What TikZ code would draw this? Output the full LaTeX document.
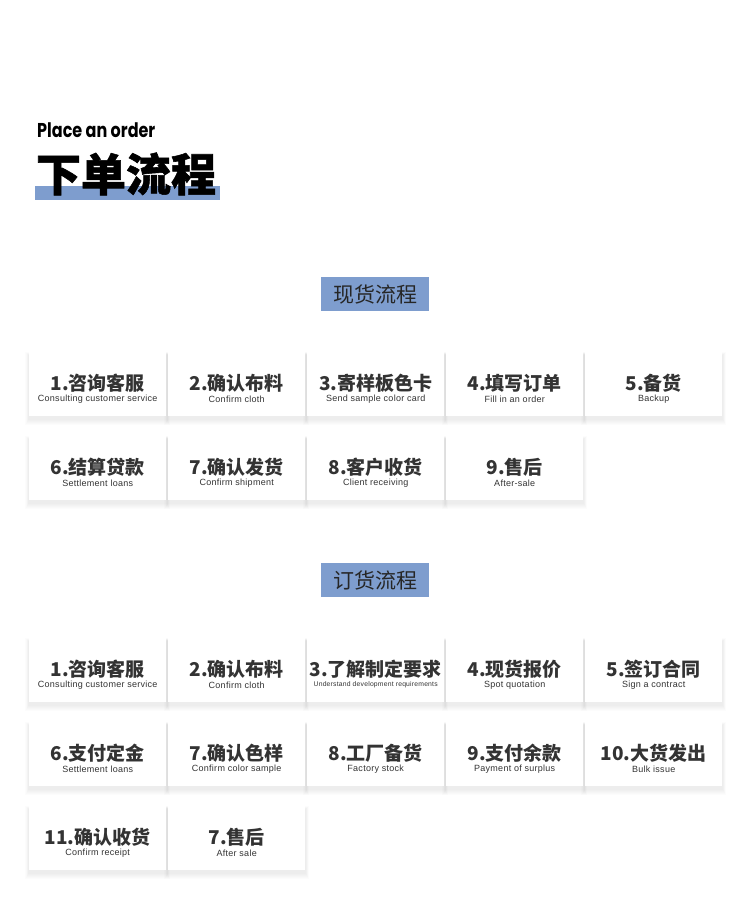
\documentclass[tikz,border=0pt]{standalone}
\usepackage{fontspec}
\usepackage{graphicx}
\setmainfont{Liberation Sans}
\newfontfamily\cjk{Noto Sans CJK SC}
\newfontfamily\headfont{Poppins}
\usepackage{xcolor}
\usetikzlibrary{calc,backgrounds}
\definecolor{bluebar}{HTML}{7E9DCE}
\definecolor{ink}{HTML}{333333}
\tikzset{card/.style={fill=white,minimum width=137pt,minimum height=64pt,inner sep=0pt},
  cardtitle/.style={font=\cjk\bfseries\fontsize{19}{19}\selectfont,text=ink,inner sep=0pt},
  cardsub/.style={font=\fontsize{9}{9}\selectfont\addfontfeature{LetterSpace=3},text=ink,inner sep=0pt},
  secbox/.style={fill=bluebar,minimum width=108pt,minimum height=34pt,inner sep=0pt,font=\cjk\fontsize{21}{21}\selectfont,text=black!85}}
% card: name, left x, top y, chinese title, english line
\newcommand{\card}[5]{\node[card,anchor=north west] (#1) at (#2,#3) {};
  \begin{pgfonlayer}{background}
  \foreach \k in {1,...,6} \fill[black,opacity=.012] ($(#1.south west)+(-0.6*\k,\k+3)$) rectangle ($(#1.north east)+(0.6*\k,-0.5*\k+3)$);
  \end{pgfonlayer}
  \node[cardtitle] (#1-cn) at ($(#1.center)+(0,-1)$) {#4};
  \node[cardsub] (#1-en) at ($(#1.center)+(0,15)$) {#5};}

\begin{document}
\begin{tikzpicture}[x=1pt,y=-1pt]
\begin{pgfonlayer}{background}\fill[white] (0,0) rectangle (750,920);\end{pgfonlayer}
\useasboundingbox (0,0) rectangle (750,920);
% heading
\node[anchor=base west,inner sep=0pt,font=\headfont\bfseries\fontsize{20}{20}\selectfont] (entitle) at (37,138) {\scalebox{0.8}[1]{Place an order}};
\fill[bluebar] (35,186) rectangle (220,200);
\node[inner sep=0pt,font=\cjk\bfseries\fontsize{45}{45}\selectfont\addfontfeature{FakeBold=1.2}] (cntitle) at (126,174) {下单流程};
% stock flow
\node[secbox] (hstock) at (375,294) {现货流程};
\card{s1}{29}{352}{1.咨询客服}{Consulting customer service}
\card{s2}{168}{352}{2.确认布料}{Confirm cloth}
\card{s3}{307}{352}{3.寄样板色卡}{Send sample color card}
\card{s4}{446}{352}{4.填写订单}{Fill in an order}
\card{s5}{585}{352}{5.备货}{Backup}
\card{s6}{29}{436}{6.结算贷款}{Settlement loans}
\card{s7}{168}{436}{7.确认发货}{Confirm shipment}
\card{s8}{307}{436}{8.客户收货}{Client receiving}
\card{s9}{446}{436}{9.售后}{After-sale}
% order flow
\node[secbox] (horder) at (375,580) {订货流程};
\card{o1}{29}{638}{1.咨询客服}{Consulting customer service}
\card{o2}{168}{638}{2.确认布料}{Confirm cloth}
\card{o3}{307}{638}{3.了解制定要求}{\fontsize{6.8}{7}\selectfont Understand development requirements}
\card{o4}{446}{638}{4.现货报价}{Spot quotation}
\card{o5}{585}{638}{5.签订合同}{Sign a contract}
\card{o6}{29}{722}{6.支付定金}{Settlement loans}
\card{o7}{168}{722}{7.确认色样}{Confirm color sample}
\card{o8}{307}{722}{8.工厂备货}{Factory stock}
\card{o9}{446}{722}{9.支付余款}{Payment of surplus}
\card{o10}{585}{722}{10.大货发出}{Bulk issue}
\card{o11}{29}{806}{11.确认收货}{Confirm receipt}
\card{o12}{168}{806}{7.售后}{After sale}
\end{tikzpicture}
\end{document}
